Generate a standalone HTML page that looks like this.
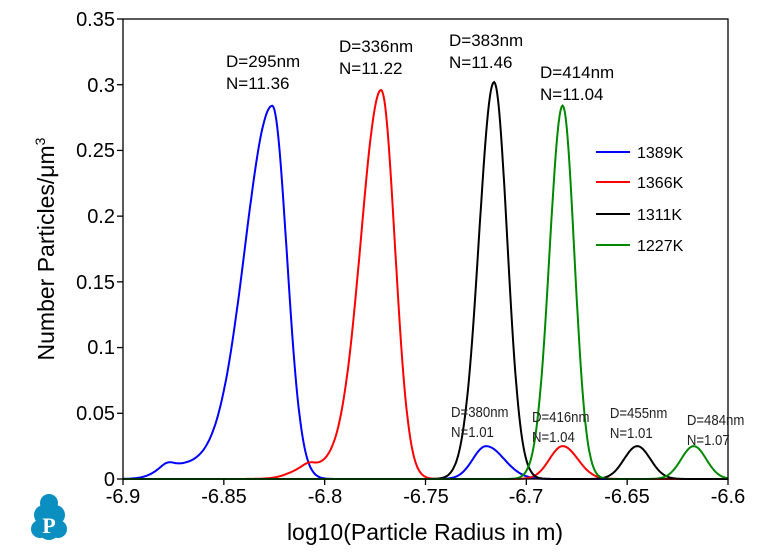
<!DOCTYPE html>
<html><head><style>
body{margin:0;background:#fff;}
svg text{font-family:"Liberation Sans",Arial,sans-serif;}
</style></head><body>
<svg id="s" width="771" height="554" xmlns="http://www.w3.org/2000/svg">
<rect width="771" height="554" fill="#fff"/>
<g id="curves" fill="none" stroke-width="2"></g>
<rect x="123" y="19" width="605" height="460" fill="none" stroke="#000" stroke-width="1.3"/>
<g font-size="20" text-anchor="end" fill="#000">
<text x="115" y="486">0</text><text x="115" y="420">0.05</text><text x="115" y="354">0.1</text>
<text x="115" y="289">0.15</text><text x="115" y="223">0.2</text><text x="115" y="157">0.25</text>
<text x="115" y="92">0.3</text><text x="115" y="26">0.35</text>
</g>
<g stroke="#000" stroke-width="1.3" id="ticks"></g>
<g font-size="20" text-anchor="middle">
<text x="123" y="503">-6.9</text><text x="224" y="503">-6.85</text><text x="325" y="503">-6.8</text>
<text x="426" y="503">-6.75</text><text x="526" y="503">-6.7</text><text x="627" y="503">-6.65</text><text x="728" y="503">-6.6</text>
</g>
<text x="425" y="540" font-size="23" text-anchor="middle">log10(Particle Radius in m)</text>
<text transform="translate(54,249) rotate(-90)" font-size="23" text-anchor="middle">Number Particles/μm<tspan font-size="14" dy="-9">3</tspan></text>
<g font-size="17">
<text x="226" y="67">D=295nm</text><text x="226" y="89">N=11.36</text>
<text x="339" y="52">D=336nm</text><text x="339" y="74">N=11.22</text>
<text x="449" y="46">D=383nm</text><text x="449" y="68">N=11.46</text>
<text x="540" y="78">D=414nm</text><text x="540" y="100">N=11.04</text>
</g>
<g font-size="15" fill="#222" transform="scale(0.88,1)">
<text x="512.5" y="417">D=380nm</text><text x="512.5" y="437">N=1.01</text>
<text x="604.5" y="422">D=416nm</text><text x="604.5" y="442">N=1.04</text>
<text x="693" y="418">D=455nm</text><text x="693" y="438">N=1.01</text>
<text x="780.5" y="425">D=484nm</text><text x="780.5" y="445">N=1.07</text>
</g>
<g stroke-width="2">
<line x1="596" y1="152" x2="630" y2="152" stroke="#00f"/>
<line x1="596" y1="182" x2="630" y2="182" stroke="#f00"/>
<line x1="596" y1="214" x2="630" y2="214" stroke="#000"/>
<line x1="596" y1="245" x2="630" y2="245" stroke="#080"/>
</g>
<g font-size="16">
<text x="637" y="158">1389K</text><text x="637" y="188">1366K</text>
<text x="637" y="220">1311K</text><text x="637" y="251">1227K</text>
</g>
<g fill="#0a8fc0">
<circle cx="49" cy="503" r="9"/><circle cx="44" cy="515" r="10"/><circle cx="55" cy="515" r="10"/>
<circle cx="40" cy="529" r="9"/><circle cx="58" cy="529" r="9"/><circle cx="49" cy="530" r="10"/>
</g>
<text x="49" y="533" font-size="22" font-weight="bold" fill="#fff" text-anchor="middle" style="font-family:'Liberation Serif',serif">P</text>
</svg>
<script>
const X=v=>123+(v+6.9)/0.3*605, Y=v=>479-v/0.35*460;
function g(x,m,a,sl,sr){const s=x<m?sl:sr;return a*Math.exp(-0.5*((x-m)/s)**2);}
function plat(x,a,c,sc,m,sr){let v=a/(1+Math.exp(-(x-c)/sc));if(x>m)v*=Math.exp(-0.5*((x-m)/sr)**2);return v;}
const series=[
 ["#00f",x=>g(x,-6.826,0.273,0.0135,0.0072)+plat(x,0.011,-6.884,0.0035,-6.826,0.0072)+g(x,-6.878,0.003,0.003,0.003)+g(x,-6.72,0.025,0.0065,0.009)],
 ["#f00",x=>g(x,-6.772,0.286,0.0100,0.0068)+plat(x,0.010,-6.817,0.004,-6.772,0.0068)+g(x,-6.808,0.003,0.003,0.003)+g(x,-6.682,0.025,0.0065,0.0075)],
 ["#000",x=>g(x,-6.716,0.302,0.0075,0.0065)+g(x,-6.645,0.025,0.0065,0.0065)],
 ["#080",x=>g(x,-6.682,0.284,0.0065,0.0058)+g(x,-6.617,0.025,0.0062,0.0062)]];
let h="";
for(const [c,f] of series){let d="";for(let i=0;i<=600;i++){const x=-6.9+0.3*i/600;d+=(i?"L":"M")+X(x).toFixed(1)+" "+Y(f(x)).toFixed(1);}
h+=`<path d="${d}" stroke="${c}"/>`;}
document.getElementById("curves").innerHTML=h;
let t="";for(let i=0;i<=7;i++){const y=Y(i*0.05);t+=`<line x1="117" y1="${y}" x2="123" y2="${y}"/>`;}
for(let i=0;i<=6;i++){const x=X(-6.9+i*0.05);t+=`<line x1="${x}" y1="479" x2="${x}" y2="485"/>`;}
document.getElementById("ticks").innerHTML=t;
</script>
</body></html>
